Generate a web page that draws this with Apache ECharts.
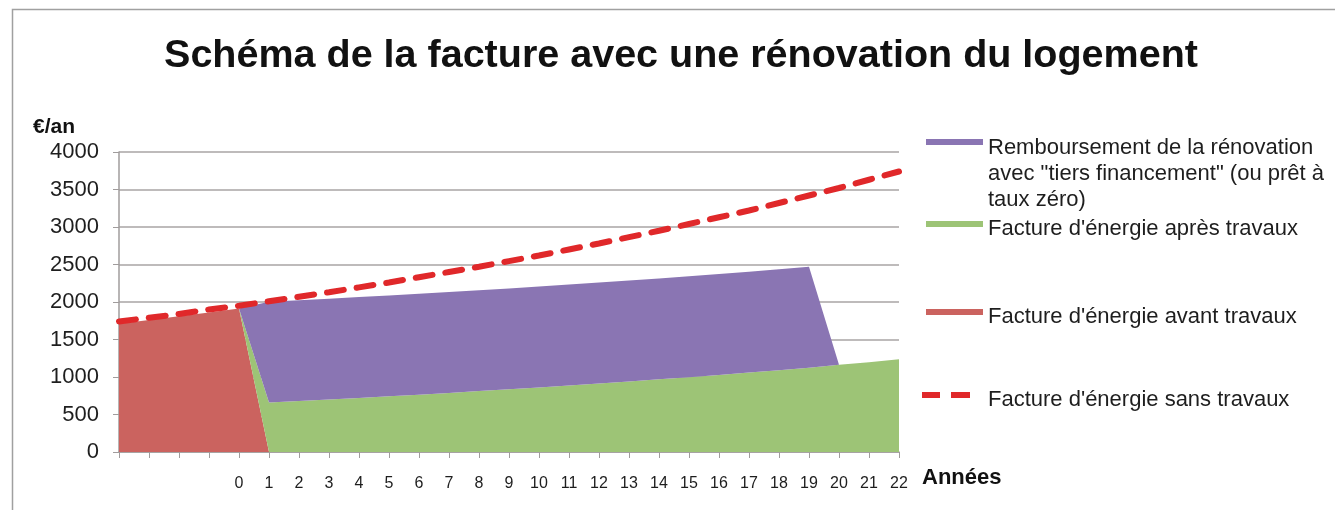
<!DOCTYPE html>
<html>
<head>
<meta charset="utf-8">
<script src="https://cdn.jsdelivr.net/npm/echarts@6/dist/echarts.min.js"></script>
<style>
html,body{margin:0;padding:0;background:#fff;}
#chart{width:1335px;height:510px;}
</style>
</head>
<body>
<div id="chart"></div>
<script>
const categories = ['-4','-3','-2','-1','0','1','2','3','4','5','6','7','8','9','10','11','12','13','14','15','16','17','18','19','20','21','22'];
const avantTravaux = [1710,1760,1810,1860,1915,0,0,0,0,0,0,0,0,0,0,0,0,0,0,0,0,0,0,0,0,0,0];
const apresTravaux = [0,0,0,0,0,660,680,700,721,743,765,788,812,836,861,887,914,941,969,998,1028,1059,1091,1124,1165,1198,1238];
const remboursement = [0,0,0,0,0,1345,1345,1345,1345,1345,1345,1345,1345,1345,1345,1345,1345,1345,1345,1345,1345,1345,1345,1345,0,0,0];
const sansTravaux = [1740,1790,1840,1900,1950,2010,2070,2130,2195,2260,2330,2400,2470,2545,2620,2700,2780,2865,2950,3040,3130,3220,3320,3420,3520,3630,3740];
const yTicks = [0,500,1000,1500,2000,2500,3000,3500,4000];

const names = {
  purple: 'Remboursement de la rénovation\navec "tiers financement" (ou prêt à\ntaux zéro)',
  green: "Facture d'énergie après travaux",
  red: "Facture d'énergie avant travaux",
  dash: "Facture d'énergie sans travaux"
};
const FONT = '"Liberation Sans", Arial, Helvetica, sans-serif';
const colors = {purple:'#8a75b3', green:'#9dc476', red:'#cb635f', dash:'#e0282a'};

function legendAt(name, left, top, gap, icon, itemWidth, padLeft) {
  return {
    show: true,
    data: [{name: name, icon: icon}],
    left: left, top: top, padding: 0,
    itemWidth: itemWidth, itemHeight: 6,
    selectedMode: false,
    formatter: function (n) { return '{g| }\n' + n; },
    textStyle: {
      fontFamily: FONT, fontSize: 22, color: '#1e1e1e', lineHeight: 26,
      padding: [0, 0, 0, padLeft],
      rich: {g: {fontSize: 4, lineHeight: gap}}
    }
  };
}

const chart = echarts.init(document.getElementById('chart'), null, {renderer: 'canvas'});
chart.setOption({
  animation: false,
  backgroundColor: '#ffffff',
  title: {
    text: 'Schéma de la facture avec une rénovation du logement',
    left: 676, top: 31, textAlign: 'center',
    textStyle: {fontFamily: FONT, fontSize: 39.5, fontWeight: 'bold', color: '#111'}
  },
  graphic: [{
    type: 'rect', silent: true, z: -1,
    shape: {x: 12.5, y: 9.5, width: 1340, height: 520},
    style: {fill: 'none', stroke: '#a0a0a0', lineWidth: 1.5}
  }],
  legend: [
    legendAt(names.purple, 926, 71, 64, 'rect', 57, 0),
    legendAt(names.green, 926, 206, 10, 'rect', 57, 0),
    legendAt(names.red, 926, 294, 10, 'rect', 57, 0),
    legendAt(names.dash, 922, 377, 10, 'path://M0,0 H18 V6 H0 Z M29,0 H48 V6 H29 Z', 48, 13)
  ],
  grid: {left: 119, right: 436, top: 152, bottom: 58, containLabel: false},
  xAxis: {
    type: 'category',
    data: categories,
    boundaryGap: false,
    name: 'Années',
    nameLocation: 'end',
    nameGap: 23,
    nameTextStyle: {fontFamily: FONT, fontSize: 22, fontWeight: 'bold', color: '#111', verticalAlign: 'top', padding: [15, 0, 0, 0]},
    axisLine: {lineStyle: {color: '#a09c9c', width: 1.5}},
    axisTick: {show: true, interval: 0, length: 6, lineStyle: {color: '#a09c9c'}},
    axisLabel: {
      interval: 0, margin: 24, fontFamily: FONT, fontSize: 16, color: '#1e1e1e',
      formatter: function (v) { return Number(v) < 0 ? '' : v; }
    },
    splitLine: {show: false}
  },
  yAxis: {
    type: 'value',
    min: yTicks[0], max: yTicks[yTicks.length - 1], interval: 500,
    name: '€/an',
    nameLocation: 'end',
    nameGap: 14,
    nameTextStyle: {fontFamily: FONT, fontSize: 21, fontWeight: 'bold', color: '#111', align: 'right', padding: [0, 44, 0, 0]},
    axisLine: {show: true, lineStyle: {color: '#a09c9c', width: 1.5}},
    axisTick: {show: true, length: 6, lineStyle: {color: '#a09c9c'}},
    axisLabel: {
      margin: 20, fontFamily: FONT, fontSize: 22, color: '#1e1e1e',
      formatter: function (v) { return String(v); }
    },
    splitLine: {lineStyle: {color: '#a8a4a4', width: 1.5}}
  },
  series: [
    {
      name: names.red, type: 'line', stack: 'total', data: avantTravaux,
      symbol: 'none', lineStyle: {width: 0}, itemStyle: {color: colors.red},
      areaStyle: {color: colors.red, opacity: 1}
    },
    {
      name: names.green, type: 'line', stack: 'total', data: apresTravaux,
      symbol: 'none', lineStyle: {width: 0}, itemStyle: {color: colors.green},
      areaStyle: {color: colors.green, opacity: 1}
    },
    {
      name: names.purple, type: 'line', stack: 'total', data: remboursement,
      symbol: 'none', lineStyle: {width: 0}, itemStyle: {color: colors.purple},
      areaStyle: {color: colors.purple, opacity: 1}
    },
    {
      name: names.dash, type: 'line', data: sansTravaux,
      symbol: 'none', z: 5, itemStyle: {color: colors.dash},
      lineStyle: {color: colors.dash, width: 6, type: [17, 13], cap: 'round'}
    }
  ]
});
</script>
</body>
</html>
